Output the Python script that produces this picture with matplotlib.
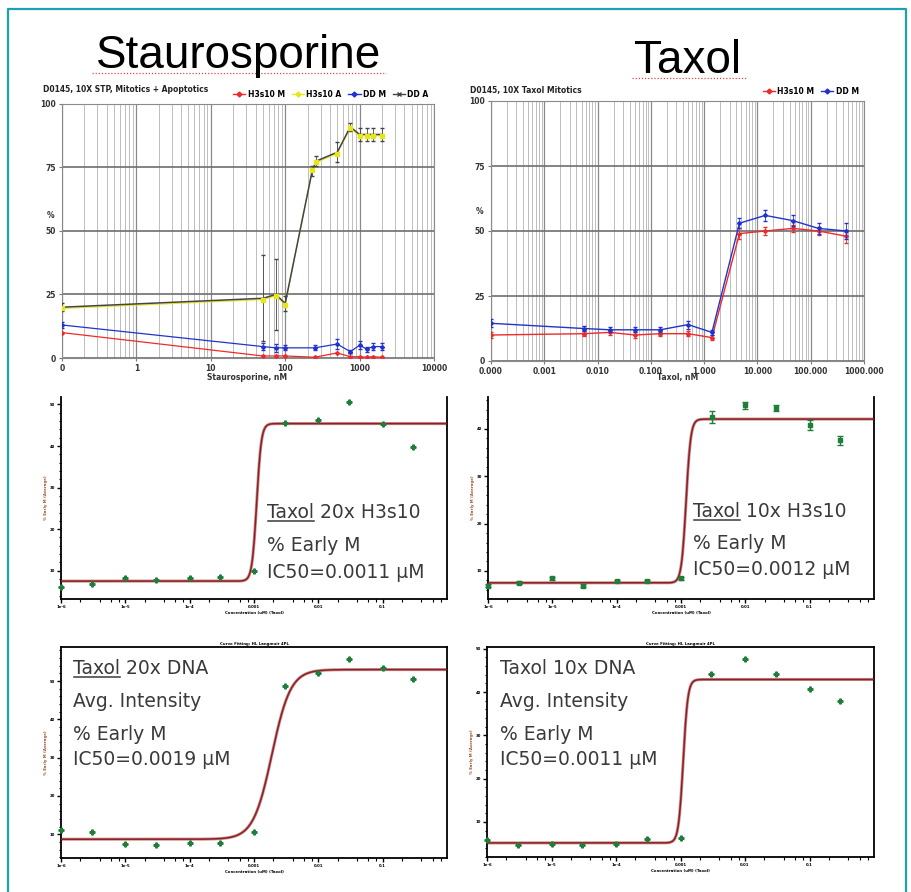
import numpy as np
import matplotlib
matplotlib.use("Agg")
import matplotlib.pyplot as plt
from matplotlib.lines import Line2D
from matplotlib.ticker import (FixedLocator, FixedFormatter, LogLocator,
                               NullFormatter, AutoMinorLocator)

W, H = 911, 892

# --- Staurosporine screen (top left) ---
STS_X_A = [0.1, 50, 75, 100, 230, 260, 500, 750, 1000, 1250, 1500, 2000]
STS_DD_A = [20, 23.5, 25, 21.5, 73.5, 77.5, 81, 91, 88, 88, 88, 88]
STS_DD_A_ERR = [1.5, 17, 14, 3, 2, 2, 4, 1.5, 2.5, 2.5, 2.5, 2.5]
STS_H3_A = [19.5, 23, 24.5, 21, 74, 77, 80.5, 90.5, 87.5, 87.5, 87.5, 87.5]
STS_X_M = [0.1, 50, 75, 100, 250, 500, 750, 1000, 1250, 1500, 2000]
STS_DD_M = [13, 4.5, 4, 4, 4, 5.5, 2.5, 5, 3.5, 4.5, 4.5]
STS_DD_M_ERR = [1, 1.5, 1.5, 1, 1, 2, 0.5, 1.5, 1, 1.5, 1.5]
STS_H3_M = [10, 0.8, 0.8, 0.8, 0.3, 2, 0.5, 0.5, 0.3, 0.5, 0.3]
STS_TICKS = [0.1, 1, 10, 100, 1000, 10000]
STS_LABELS = ["0", "1", "10", "100", "1000", "10000"]

# --- Taxol screen (top right) ---
TAX_X = [0.0001, 0.0055, 0.017, 0.05, 0.15, 0.5, 1.4, 4.6, 14, 46, 140, 460]
TAX_DD_M = [14.5, 12.5, 12, 12, 12, 14, 11, 53, 56, 54, 51, 50]
TAX_DD_M_ERR = [1.5, 1, 1, 1, 1, 1.5, 1, 2, 2, 2, 2, 3]
TAX_H3_M = [10, 10.5, 11, 10, 10.5, 10.5, 9, 49, 50, 51, 50, 48]
TAX_H3_M_ERR = [1, 1, 1, 1, 1, 1, 1, 2, 1.5, 1.5, 1.5, 2.5]
TAX_TICKS = [1e-4, 1e-3, 1e-2, 1e-1, 1, 10, 100, 1000]
TAX_LABELS = ["0.000", "0.001", "0.010", "0.100", "1.000", "10.000",
              "100.000", "1000.000"]

# --- curve fits (bottom four) ---
CONC = [1e-6, 3e-6, 1e-5, 3e-5, 1e-4, 3e-4, 1e-3, 3e-3, 1e-2, 3e-2, 0.1, 0.3]
CONC_TICKS = [1e-6, 1e-5, 1e-4, 1e-3, 1e-2, 1e-1]
CONC_LABELS = ["1e-6", "1e-5", "1e-4", "0.001", "0.01", "0.1"]
H3_20X = [6.2, 6.8, 8.3, 7.8, 8.3, 8.5, 10, 45.6, 46.3, 50.7, 45.3, 39.8]
H3_10X = [6.9, 7.5, 8.5, 6.9, 7.8, 7.9, 8.5, 42.4, 44.9, 44.3, 40.8, 37.5]
H3_10X_ERR = [0.3, 0.3, 0.3, 0.3, 0.2, 0.2, 0.3, 1.3, 0.7, 0.7, 1.0, 1.0]
DNA_20X = [11.0, 10.7, 7.4, 7.3, 7.8, 7.7, 10.7, 48.6, 52.2, 55.8, 53.5, 50.6]
DNA_10X = [5.8, 4.6, 4.85, 4.6, 4.85, 6.0, 6.4, 44.2, 47.7, 44.2, 40.8, 37.9]
# bottom, top, ic50, hill
FIT_H3_20X = (7.5, 45.4, 0.0011, 12)
FIT_H3_10X = (7.5, 42.0, 0.0012, 12)
FIT_DNA_20X = (8.7, 53.0, 0.0019, 3)
FIT_DNA_10X = (5.15, 42.9, 0.0011, 12)

RED, YEL, BLUE, DARK = "#ee2a2a", "#e6e619", "#2233cc", "#444444"
GREEN, FITC, TXT = "#1f7f3a", "#8e1f22", "#3a3a3a"


def box(x0, y0, x1, y1):
    return [x0 / W, 1 - y1 / H, (x1 - x0) / W, (y1 - y0) / H]


def fy(y):
    return 1 - y / H


def screen_axes(ax, xlim, ticks, labels):
    ax.set_xscale("log")
    ax.set_xlim(*xlim)
    ax.set_ylim(0, 100)
    ax.xaxis.set_major_locator(FixedLocator(ticks))
    ax.xaxis.set_major_formatter(FixedFormatter(labels))
    ax.xaxis.set_minor_locator(LogLocator(base=10, subs=np.arange(2, 10)))
    ax.xaxis.set_minor_formatter(NullFormatter())
    ax.set_yticks([0, 25, 50, 75, 100])
    ax.grid(True, which="minor", axis="x", color="#bdbdbd", lw=0.7)
    ax.grid(True, which="major", axis="x", color="#8a8a8a", lw=0.9)
    ax.grid(True, which="major", axis="y", color="#6e6e6e", lw=1.2)
    ax.set_axisbelow(True)
    for s in ax.spines.values():
        s.set_color("#8a8a8a")
    ax.tick_params(which="both", length=2.5, color="#777", labelsize=5.5,
                   labelcolor="#333", pad=2)
    ax.tick_params(which="minor", length=0)
    for lab in ax.get_xticklabels() + ax.get_yticklabels():
        lab.set_fontweight("bold")


def fit_axes(ax, ylim, yticks, full_box):
    ax.set_xscale("log")
    ax.set_xlim(1e-6, 1.0)
    ax.set_ylim(*ylim)
    ax.xaxis.set_major_locator(FixedLocator(CONC_TICKS))
    ax.xaxis.set_major_formatter(FixedFormatter(CONC_LABELS))
    ax.xaxis.set_minor_locator(LogLocator(base=10, subs=[2, 4, 6, 8]))
    ax.xaxis.set_minor_formatter(NullFormatter())
    ax.set_yticks(yticks)
    ax.yaxis.set_minor_locator(AutoMinorLocator(5))
    ax.tick_params(which="major", length=3, width=1, labelsize=2.8, pad=1.5)
    ax.tick_params(which="minor", length=1.8, width=0.8)
    for lab in ax.get_xticklabels() + ax.get_yticklabels():
        lab.set_fontweight("bold")
    for s in ax.spines.values():
        s.set_linewidth(1.3)
    if not full_box:
        ax.spines["top"].set_visible(False)
    ax.set_xlabel("Concentration (uM) (Taxol)", fontsize=2.8, labelpad=1,
                  fontweight="bold")
    ax.set_ylabel("% Early M (Average)", fontsize=2.8, labelpad=1,
                  color="#a0522d", fontweight="bold")


def draw_fit(ax, vals, params, err=None):
    b, t, ic, h = params
    xs = np.logspace(-6, 0, 600)
    ax.plot(xs, b + (t - b) / (1 + (ic / xs) ** h), color="#c89090", lw=2.2,
            zorder=2)
    ax.plot(xs, b + (t - b) / (1 + (ic / xs) ** h), color=FITC, lw=1.1,
            zorder=3)
    if err is None:
        ax.plot(CONC, vals, ls="none", marker="P", ms=3.5, color=GREEN,
                zorder=4, clip_on=False)
    else:
        ax.errorbar(CONC, vals, yerr=err, ls="none", marker="s", ms=2.5,
                    color=GREEN, elinewidth=1, capsize=2, capthick=1,
                    zorder=4, clip_on=False)


def label_block(fig, x, lines, underline):
    r = fig.canvas.get_renderer()
    for i, (y, s) in enumerate(lines):
        fig.text(x / W, fy(y), s, fontsize=13.5, color=TXT, va="baseline",
                 family="DejaVu Sans")
    if underline:
        y0 = lines[0][0]
        probe = fig.text(x / W, fy(y0), "Taxol", fontsize=13.5, va="baseline",
                         family="DejaVu Sans", alpha=0)
        bb = probe.get_window_extent(r)
        fig.add_artist(Line2D([bb.x0 / W + 0.001, bb.x1 / W], [fy(y0 + 3)] * 2,
                              color=TXT, lw=1.1))


fig = plt.figure(figsize=(W / 100, H / 100), dpi=100)

# frame around the slide
fig.add_artist(Line2D([7.5 / W, 7.5 / W, 906 / W, 906 / W],
                      [0, fy(8.5), fy(8.5), 0], color="#1ea0b4", lw=1.6))

# big titles with their spell-check squiggles
fig.text(239 / W, fy(68), "Staurosporine", fontsize=33, va="baseline",
         ha="center", family="Liberation Sans")
fig.text(688 / W, fy(73), "Taxol", fontsize=33, va="baseline",
         ha="center", family="Liberation Sans")
fig.add_artist(Line2D([92 / W, 386 / W], [fy(73)] * 2, color="#e04848",
                      lw=0.9, ls=(0, (1, 1.5))))
fig.add_artist(Line2D([632 / W, 746 / W], [fy(78)] * 2, color="#e04848",
                      lw=0.9, ls=(0, (1, 1.5))))

# ---- Staurosporine screen ----
ax1 = fig.add_axes(box(62, 104, 434, 358))
screen_axes(ax1, (0.1, 10000), STS_TICKS, STS_LABELS)
ax1.plot(STS_X_M, STS_H3_M, color=RED, lw=0.9, marker="D", ms=2, zorder=3)
ax1.errorbar(STS_X_M, STS_DD_M, yerr=STS_DD_M_ERR, color=BLUE, lw=0.9,
             marker="D", ms=2, elinewidth=0.6, capsize=1.5, zorder=3)
ax1.plot(STS_X_A, STS_H3_A, color=YEL, lw=0.8, zorder=3)
ax1.errorbar(STS_X_A, STS_DD_A, yerr=STS_DD_A_ERR, color=DARK, lw=1.1,
             elinewidth=0.6, capsize=1.5, zorder=4)
ax1.plot(STS_X_A, STS_H3_A, ls="none", color=YEL, marker="s", ms=2.5,
         zorder=5)
fig.text(43 / W, fy(92), "D0145, 10X STP, Mitotics + Apoptotics",
         fontsize=5.5, fontweight="bold", color="#222")
fig.text(247 / W, fy(380), "Staurosporine, nM", fontsize=5.5,
         fontweight="bold", ha="center", color="#333")
fig.text(47 / W, fy(218), "%", fontsize=5.5, fontweight="bold", color="#333")
h1 = [Line2D([], [], color=c, marker=m, ms=2.5, lw=1)
      for c, m in [(RED, "D"), (YEL, "D"), (BLUE, "D"), (DARK, "x")]]
ax1.legend(h1, ["H3s10 M", "H3s10 A", "DD M", "DD A"], ncol=4,
           loc="lower right", bbox_to_anchor=(1.0, 1.0), frameon=False,
           prop={"size": 5.5, "weight": "bold"}, handlelength=1.6,
           columnspacing=0.9, handletextpad=0.3, borderaxespad=0.3)

# ---- Taxol screen ----
ax2 = fig.add_axes(box(491, 101, 864, 361))
screen_axes(ax2, (1e-4, 1000), TAX_TICKS, TAX_LABELS)
ax2.errorbar(TAX_X, TAX_H3_M, yerr=TAX_H3_M_ERR, color=RED, lw=1.0,
             marker="D", ms=2, elinewidth=0.6, capsize=1.5, zorder=3)
ax2.errorbar(TAX_X, TAX_DD_M, yerr=TAX_DD_M_ERR, color=BLUE, lw=1.0,
             marker="D", ms=2, elinewidth=0.6, capsize=1.5, zorder=4)
fig.text(470 / W, fy(93), "D0145, 10X Taxol Mitotics", fontsize=5.5,
         fontweight="bold", color="#222")
fig.text(678 / W, fy(380), "Taxol, nM", fontsize=5.5, fontweight="bold",
         ha="center", color="#333")
fig.text(476 / W, fy(214), "%", fontsize=5.5, fontweight="bold", color="#333")
h2 = [Line2D([], [], color=c, marker="D", ms=2.5, lw=1) for c in (RED, BLUE)]
ax2.legend(h2, ["H3s10 M", "DD M"], ncol=2, loc="lower right",
           bbox_to_anchor=(1.0, 1.0), frameon=False,
           prop={"size": 5.5, "weight": "bold"}, handlelength=1.6,
           columnspacing=0.9, handletextpad=0.3, borderaxespad=0.3)

# ---- curve fits ----
ax3 = fig.add_axes(box(61, 397, 447, 599))
fit_axes(ax3, (3.2, 51.8), [10, 20, 30, 40, 50], False)
draw_fit(ax3, H3_20X, FIT_H3_20X)

ax4 = fig.add_axes(box(488, 397, 874, 599))
fit_axes(ax4, (4.1, 46.65), [10, 20, 30, 40], False)
draw_fit(ax4, H3_10X, FIT_H3_10X, err=H3_10X_ERR)

ax5 = fig.add_axes(box(61, 647, 447, 858))
fit_axes(ax5, (3.8, 58.9), [10, 20, 30, 40, 50], True)
draw_fit(ax5, DNA_20X, FIT_DNA_20X)
ax5.set_title("Curve Fitting: HL Langmuir 4PL", fontsize=2.8, pad=1.5,
              fontweight="bold")

ax6 = fig.add_axes(box(487, 647, 874, 857))
fit_axes(ax6, (1.9, 50.4), [10, 20, 30, 40, 50], True)
draw_fit(ax6, DNA_10X, FIT_DNA_10X)
ax6.set_title("Curve Fitting: HL Langmuir 4PL", fontsize=2.8, pad=1.5,
              fontweight="bold")

label_block(fig, 266.7, [(518, "Taxol 20x H3s10"), (551, "% Early M"),
                         (578, "IC50=0.0011 \u00b5M")], True)
label_block(fig, 693.3, [(516.7, "Taxol 10x H3s10"), (549.3, "% Early M"),
                         (575, "IC50=0.0012 \u00b5M")], True)
label_block(fig, 73.3, [(674.3, "Taxol 20x DNA"), (706.7, "Avg. Intensity"),
                        (740, "% Early M"), (765, "IC50=0.0019 \u00b5M")], True)
label_block(fig, 500, [(674.3, "Taxol 10x DNA"), (706.7, "Avg. Intensity"),
                       (740, "% Early M"), (765, "IC50=0.0011 \u00b5M")], False)

fig.savefig("out.png", dpi=100)
